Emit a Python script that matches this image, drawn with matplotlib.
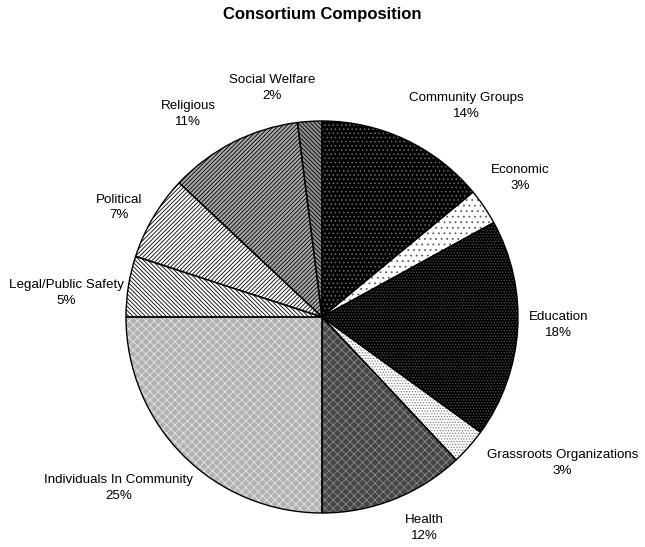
import matplotlib
matplotlib.use("Agg")
import matplotlib.pyplot as plt
import numpy as np

categories = ["Community Groups", "Economic", "Education", "Grassroots Organizations",
              "Health", "Individuals In Community", "Legal/Public Safety", "Political",
              "Religious", "Social Welfare"]
values = [14, 3, 18, 3, 12, 25, 5, 7, 11, 2]

# styles
faces = ["#000000", "#ffffff", "#000000", "#ffffff", "#454545", "#b2b2b2",
         "#ffffff", "#ffffff", "#a8a8a8", "#909090"]
hatches = ["....", "...", "......", "......", "xxxx", "xxxx",
           "\\\\\\\\\\\\\\\\", "////////", "////////", "\\\\\\\\\\\\\\\\"]
hatch_colors = ["#707070", "#606060", "#505050", "#808080", "#8a8a8a", "#e6e6e6",
                "#000000", "#000000", "#000000", "#000000"]
# label positions (in pie-radius units, relative to centre)
label_xy = [(0.738, 1.077), (1.010, 0.708), (1.205, -0.041), (1.226, -0.744),
            (0.523, -1.077), (-1.036, -0.872), (-1.305, 0.123), (-1.036, 0.559),
            (-0.682, 1.036), (-0.256, 1.169)]

plt.rcParams["font.family"] = ["Liberation Sans", "DejaVu Sans"]
plt.rcParams["hatch.linewidth"] = 0.6

W, H = 645, 547
fig = plt.figure(figsize=(W / 100, H / 100), dpi=100)
cx, cy, r = 322, 317, 196
ax = fig.add_axes([(cx - r) / W, (H - cy - r) / H, 2 * r / W, 2 * r / H])

wedges, _ = ax.pie(values, startangle=90, counterclock=False, radius=1)
for w, fc, h, hc in zip(wedges, faces, hatches, hatch_colors):
    w.set_facecolor(fc)
    w.set_hatch(h)
    w.set_edgecolor(hc)
    w.set_linewidth(0)

edges, _ = ax.pie(values, startangle=90, counterclock=False, radius=1,
                  wedgeprops=dict(facecolor="none", edgecolor="black", linewidth=1.0))

ax.set_xlim(-1, 1)
ax.set_ylim(-1, 1)
ax.set_aspect("equal")
ax.axis("off")

total = sum(values)
for name, v, (x, y) in zip(categories, values, label_xy):
    ax.text(x, y, f"{name}\n{v / total * 100:.0f}%", ha="center", va="center",
            fontsize=9.6, linespacing=1.4, clip_on=False)

fig.text(0.5, 1 - 15 / H, "Consortium Composition", ha="center", va="center",
         fontsize=12, fontweight="bold")

fig.savefig("out.png", dpi=100)
